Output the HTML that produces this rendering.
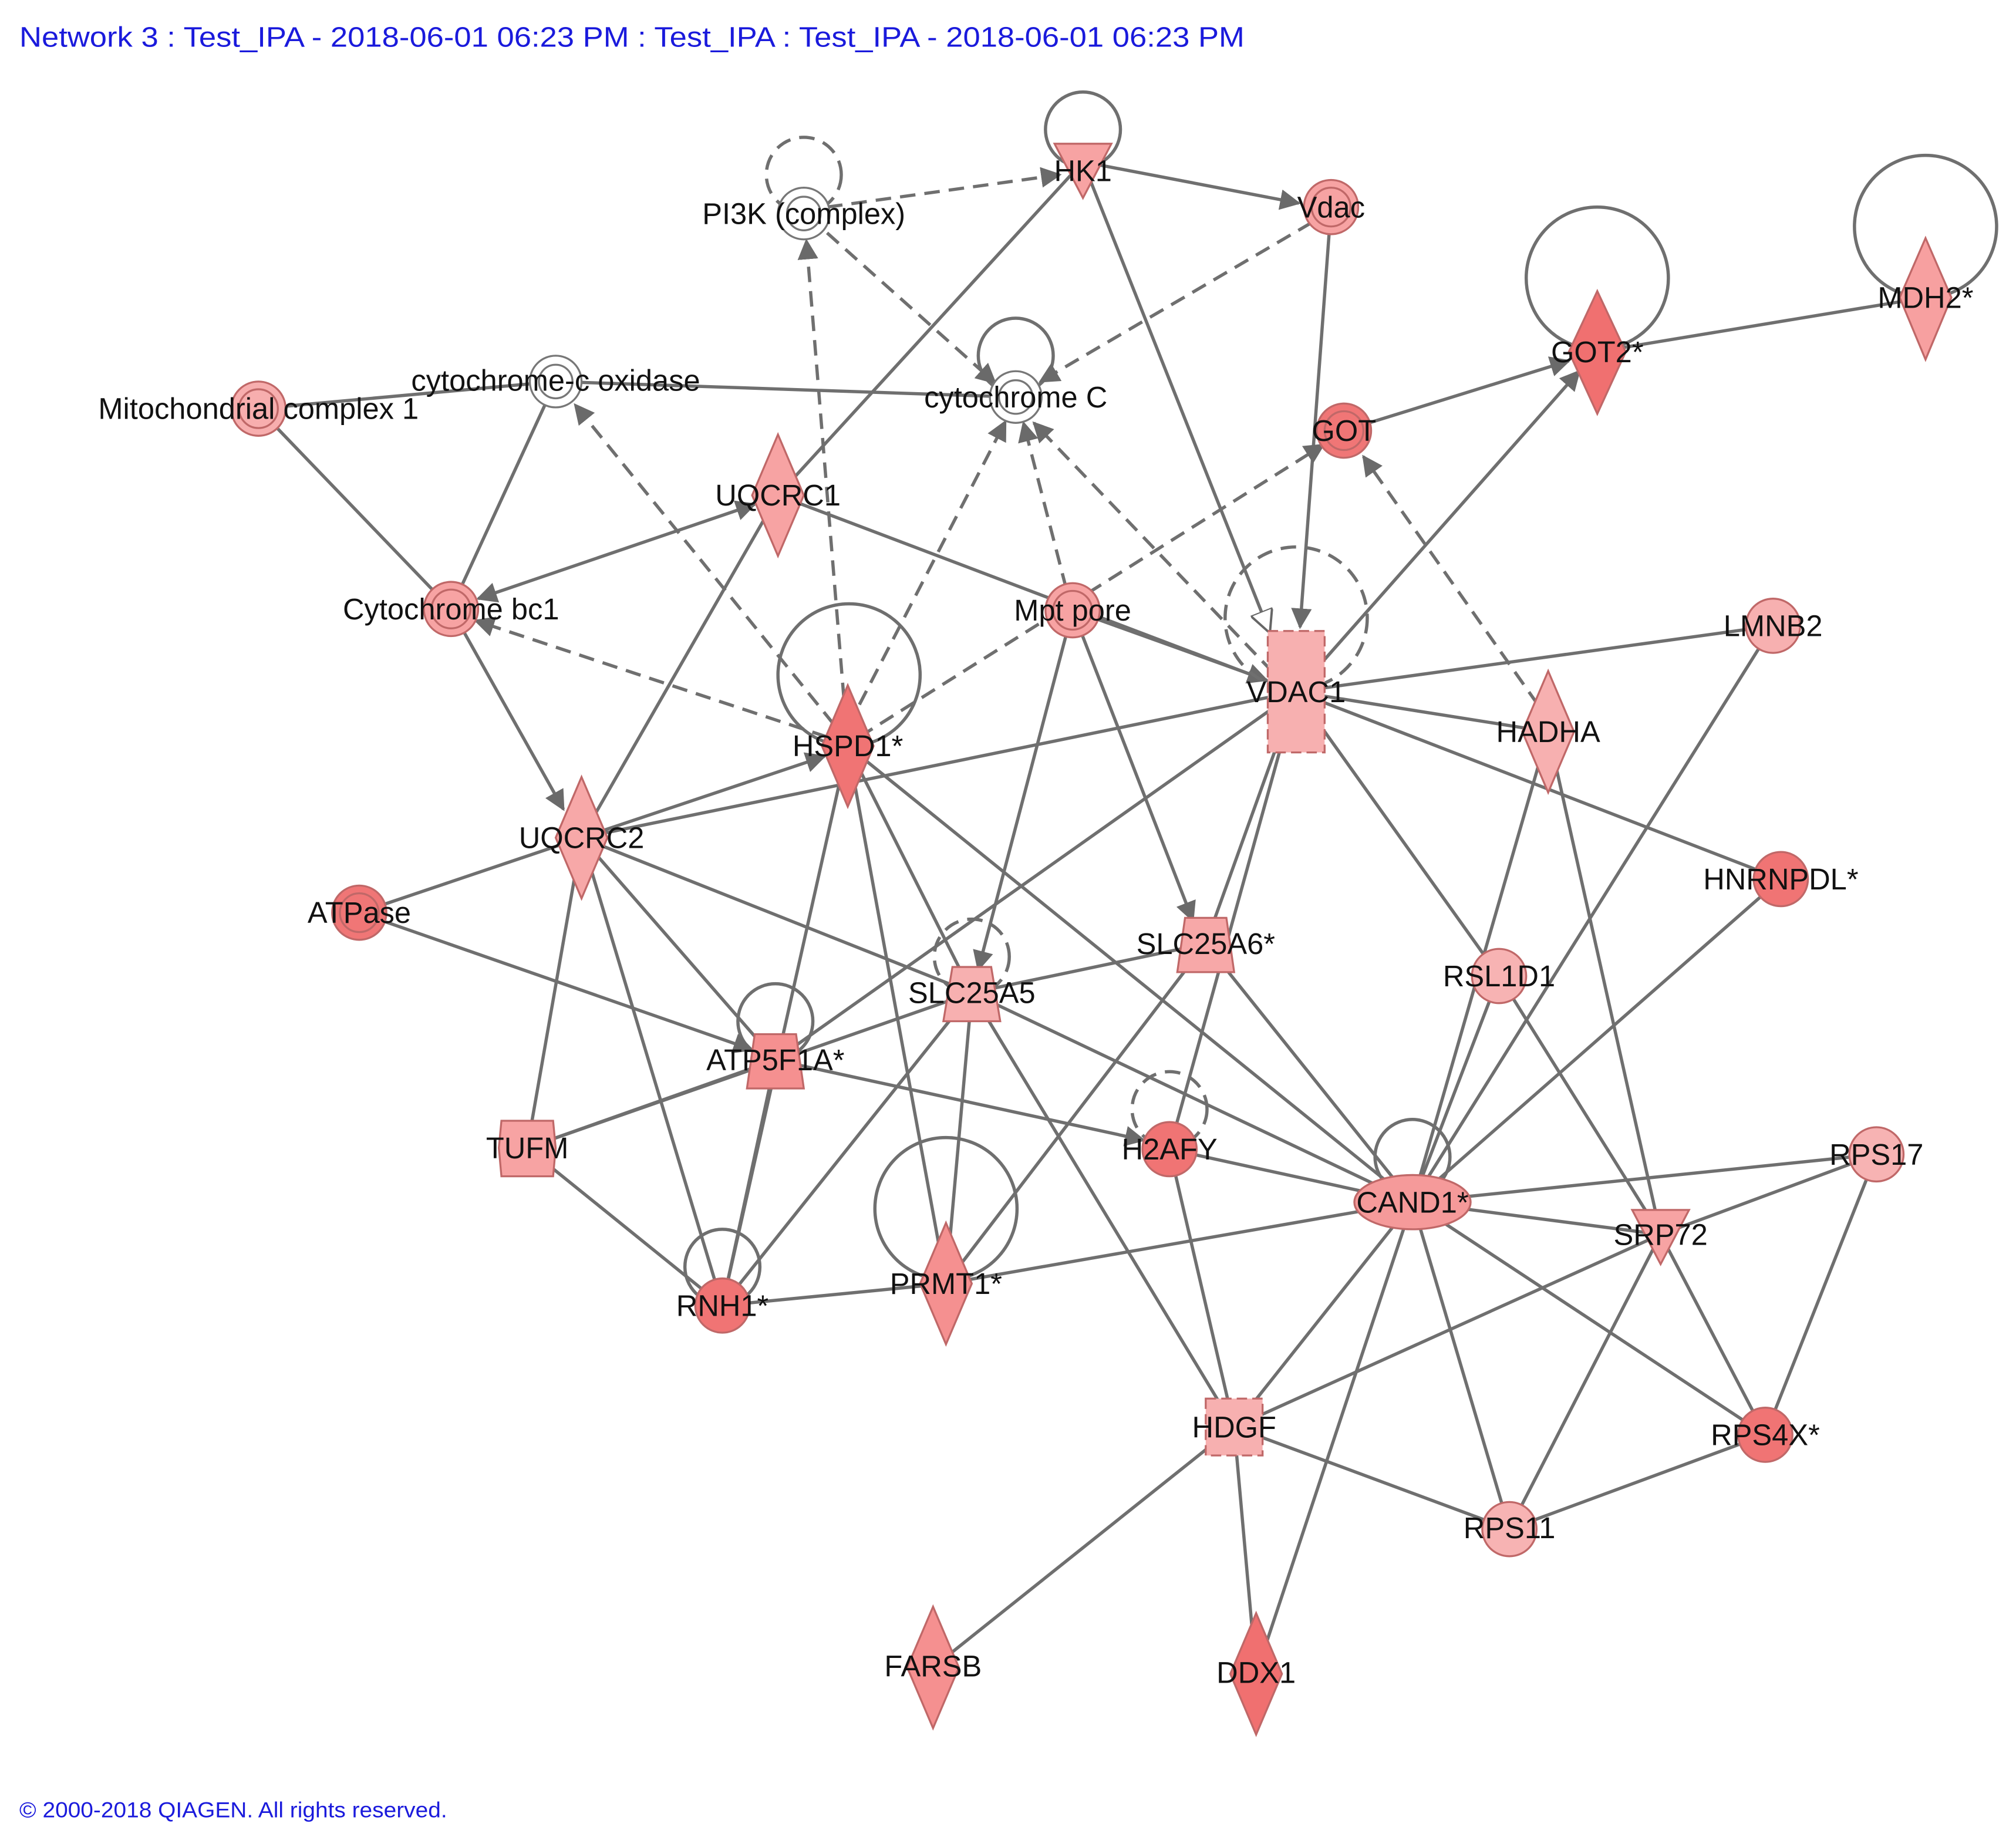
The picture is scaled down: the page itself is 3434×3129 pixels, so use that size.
<!DOCTYPE html>
<html><head><meta charset="utf-8"><style>
html,body{margin:0;padding:0;background:#fff;}
svg{display:block;}
text{font-family:"Liberation Sans",Arial,sans-serif;}
</style></head><body>
<svg width="3434" height="3129" viewBox="0 0 1560 1421" xmlns="http://www.w3.org/2000/svg">
<defs>
<marker id="A" viewBox="0 0 10 10" refX="9" refY="5" markerWidth="16" markerHeight="16" orient="auto-start-reverse" markerUnits="userSpaceOnUse"><path d="M0,0 L10,5 L0,10 z" fill="#6a6a6a"/></marker>
<marker id="O" viewBox="0 0 10 10" refX="9" refY="5" markerWidth="18" markerHeight="18" orient="auto" markerUnits="userSpaceOnUse"><path d="M0,0 L10,5 L0,10 z" fill="#fff" stroke="#666" stroke-width="1"/></marker>
</defs>
<rect width="1560" height="1421" fill="#fff"/>
<text x="15" y="36" font-size="22" fill="#1a1adc" textLength="948" lengthAdjust="spacingAndGlyphs">Network 3 : Test_IPA - 2018-06-01 06:23 PM : Test_IPA : Test_IPA - 2018-06-01 06:23 PM</text>
<text x="15" y="1406" font-size="17" fill="#1a1adc" textLength="331" lengthAdjust="spacingAndGlyphs">© 2000-2018 QIAGEN. All rights reserved.</text>

<g stroke="#6f6f6f" stroke-width="2.5" fill="none">
<circle cx="838" cy="100" r="29"/>
<circle cx="1236" cy="215" r="55"/>
<circle cx="1490" cy="175" r="55"/>
<circle cx="786" cy="275" r="29"/>
<circle cx="657" cy="522" r="55"/>
<circle cx="600" cy="790" r="29"/>
<circle cx="732" cy="935" r="55"/>
<circle cx="559" cy="980" r="29"/>
<circle cx="1093" cy="895" r="29"/>
<line x1="838" y1="125" x2="1005" y2="157" marker-end="url(#A)"/>
<line x1="838" y1="125" x2="982" y2="488" marker-end="url(#O)"/>
<line x1="1030" y1="160" x2="1006" y2="485" marker-end="url(#A)"/>
<line x1="838" y1="125" x2="602" y2="383"/>
<line x1="430" y1="295" x2="786" y2="307"/>
<line x1="200" y1="316" x2="430" y2="295"/>
<line x1="200" y1="316" x2="349" y2="471"/>
<line x1="430" y1="295" x2="349" y2="471"/>
<line x1="370" y1="463" x2="584" y2="390" marker-start="url(#A)" marker-end="url(#A)"/>
<line x1="602" y1="383" x2="1003" y2="535"/>
<line x1="349" y1="471" x2="436" y2="626" marker-end="url(#A)"/>
<line x1="1040" y1="333" x2="1214" y2="279" marker-end="url(#A)"/>
<line x1="1003" y1="535" x2="1222" y2="287" marker-end="url(#A)"/>
<line x1="1236" y1="272" x2="1490" y2="230"/>
<line x1="830" y1="472" x2="980" y2="526" marker-end="url(#A)"/>
<line x1="830" y1="472" x2="923" y2="712" marker-end="url(#A)"/>
<line x1="830" y1="472" x2="757" y2="750" marker-end="url(#A)"/>
<line x1="1003" y1="535" x2="1372" y2="484"/>
<line x1="1003" y1="535" x2="1198" y2="566"/>
<line x1="1003" y1="535" x2="1378" y2="680"/>
<line x1="1003" y1="535" x2="1160" y2="755"/>
<line x1="450" y1="648" x2="1003" y2="535"/>
<line x1="450" y1="648" x2="638" y2="585" marker-end="url(#A)"/>
<line x1="450" y1="648" x2="602" y2="383"/>
<line x1="450" y1="648" x2="278" y2="706"/>
<line x1="450" y1="648" x2="752" y2="768"/>
<line x1="450" y1="648" x2="600" y2="820"/>
<line x1="450" y1="648" x2="408" y2="888"/>
<line x1="450" y1="648" x2="559" y2="1010"/>
<line x1="278" y1="706" x2="582" y2="812" marker-end="url(#A)"/>
<line x1="1003" y1="535" x2="600" y2="820"/>
<line x1="1003" y1="535" x2="933" y2="730"/>
<line x1="1003" y1="535" x2="905" y2="889"/>
<line x1="656" y1="577" x2="752" y2="768"/>
<line x1="656" y1="577" x2="1093" y2="930"/>
<line x1="656" y1="577" x2="732" y2="993"/>
<line x1="656" y1="577" x2="559" y2="1010"/>
<line x1="752" y1="768" x2="933" y2="730"/>
<line x1="752" y1="768" x2="1093" y2="930"/>
<line x1="752" y1="768" x2="955" y2="1104"/>
<line x1="752" y1="768" x2="732" y2="993"/>
<line x1="752" y1="768" x2="408" y2="888"/>
<line x1="752" y1="768" x2="559" y2="1010"/>
<line x1="933" y1="730" x2="1093" y2="930"/>
<line x1="933" y1="730" x2="732" y2="993"/>
<line x1="600" y1="820" x2="885" y2="882" marker-end="url(#A)"/>
<line x1="600" y1="820" x2="559" y2="1010"/>
<line x1="408" y1="888" x2="600" y2="820"/>
<line x1="408" y1="888" x2="559" y2="1010"/>
<line x1="559" y1="1010" x2="732" y2="993"/>
<line x1="732" y1="993" x2="1093" y2="930"/>
<line x1="905" y1="889" x2="1093" y2="930"/>
<line x1="905" y1="889" x2="955" y2="1104"/>
<line x1="1093" y1="930" x2="1452" y2="893"/>
<line x1="1093" y1="930" x2="1285" y2="955"/>
<line x1="1093" y1="930" x2="1366" y2="1110"/>
<line x1="1093" y1="930" x2="1168" y2="1183"/>
<line x1="1093" y1="930" x2="955" y2="1104"/>
<line x1="1093" y1="930" x2="972" y2="1295"/>
<line x1="1093" y1="930" x2="1378" y2="680"/>
<line x1="1093" y1="930" x2="1372" y2="484"/>
<line x1="1093" y1="930" x2="1198" y2="566"/>
<line x1="1093" y1="930" x2="1160" y2="755"/>
<line x1="1160" y1="755" x2="1285" y2="955"/>
<line x1="1198" y1="566" x2="1285" y2="955"/>
<line x1="1285" y1="955" x2="1452" y2="893"/>
<line x1="1285" y1="955" x2="955" y2="1104"/>
<line x1="1285" y1="955" x2="1366" y2="1110"/>
<line x1="1285" y1="955" x2="1168" y2="1183"/>
<line x1="1452" y1="893" x2="1366" y2="1110"/>
<line x1="1366" y1="1110" x2="1168" y2="1183"/>
<line x1="955" y1="1104" x2="1168" y2="1183"/>
<line x1="955" y1="1104" x2="722" y2="1290"/>
<line x1="955" y1="1104" x2="972" y2="1295"/>
</g>
<g stroke="#6f6f6f" stroke-width="2.5" fill="none" stroke-dasharray="12,7">
<circle cx="622" cy="135" r="29"/>
<circle cx="1003" cy="478" r="55"/>
<circle cx="752" cy="740" r="29"/>
<circle cx="905" cy="858" r="29"/>
<line x1="640" y1="160" x2="820" y2="135" marker-end="url(#A)"/>
<line x1="640" y1="180" x2="770" y2="296" marker-end="url(#A)"/>
<line x1="1015" y1="172" x2="805" y2="295" marker-end="url(#A)"/>
<line x1="640" y1="570" x2="368" y2="480" marker-end="url(#A)"/>
<line x1="645" y1="560" x2="445" y2="313" marker-end="url(#A)"/>
<line x1="653" y1="540" x2="624" y2="186" marker-end="url(#A)"/>
<line x1="665" y1="545" x2="778" y2="326" marker-end="url(#A)"/>
<line x1="825" y1="455" x2="792" y2="327" marker-end="url(#A)"/>
<line x1="985" y1="520" x2="800" y2="327" marker-end="url(#A)"/>
<line x1="665" y1="570" x2="1024" y2="344" marker-end="url(#A)"/>
<line x1="1190" y1="545" x2="1055" y2="353" marker-end="url(#A)"/>
</g>

<g stroke="#c06868" stroke-width="1.5">
<circle cx="1030" cy="160" r="21" fill="#f7a3a3"/><circle cx="1030" cy="160" r="15" fill="none"/>
<circle cx="200" cy="316" r="21" fill="#f7aeae"/><circle cx="200" cy="316" r="15" fill="none"/>
<circle cx="1040" cy="333" r="21" fill="#f07676"/><circle cx="1040" cy="333" r="15" fill="none"/>
<circle cx="349" cy="471" r="21" fill="#f7a3a3"/><circle cx="349" cy="471" r="15" fill="none"/>
<circle cx="830" cy="472" r="21" fill="#f7a3a3"/><circle cx="830" cy="472" r="15" fill="none"/>
<circle cx="278" cy="706" r="21" fill="#f07676"/><circle cx="278" cy="706" r="15" fill="none"/>
<circle cx="1372" cy="484" r="21" fill="#f7b0b0"/>
<circle cx="1378" cy="680" r="21" fill="#f07474"/>
<circle cx="1160" cy="755" r="21" fill="#f7b3b3"/>
<circle cx="905" cy="889" r="21" fill="#f07474"/>
<circle cx="1452" cy="893" r="21" fill="#f7b3b3"/>
<circle cx="559" cy="1010" r="21" fill="#f07474"/>
<circle cx="1366" cy="1110" r="21" fill="#f07474"/>
<circle cx="1168" cy="1183" r="21" fill="#f7b3b3"/>
<ellipse cx="1093" cy="930" rx="45" ry="21" fill="#f59a9a"/>
<polygon points="816,111 860,111 838,153" fill="#f7a3a3"/>
<polygon points="1263,936 1307,936 1285,978" fill="#f7a3a3"/>
<polygon points="1490,184 1510,230 1490,278 1470,230" fill="#f7a0a0"/>
<polygon points="1236,225 1258,272 1236,320 1214,272" fill="#f07070"/>
<polygon points="602,336 622,383 602,430 582,383" fill="#f7a3a3"/>
<polygon points="1198,519 1218,566 1198,613 1178,566" fill="#f7b0b0"/>
<polygon points="656,530 676,577 656,624 636,577" fill="#f07474"/>
<polygon points="450,601 470,648 450,695 430,648" fill="#f7a8a8"/>
<polygon points="732,946 752,993 732,1040 712,993" fill="#f59090"/>
<polygon points="722,1243 742,1290 722,1337 702,1290" fill="#f59090"/>
<polygon points="972,1248 992,1295 972,1342 952,1295" fill="#f07070"/>
<polygon points="917,710 949,710 955,752 911,752" fill="#f7a8a8"/>
<polygon points="737,748 767,748 774,790 730,790" fill="#f7b0b0"/>
<polygon points="584,800 616,800 622,842 578,842" fill="#f59090"/>
<polygon points="388,867 428,867 430,888 428,910 388,910 386,888" fill="#f7a3a3"/>
<rect x="981" y="488" width="44" height="94" fill="#f7b0b0" stroke-dasharray="8,4"/>
<rect x="933" y="1082" width="44" height="44" fill="#f7b0b0" stroke-dasharray="8,4"/>
</g>
<g stroke="#777" stroke-width="1.5" fill="#fff">
<circle cx="622" cy="165" r="20"/><circle cx="622" cy="165" r="13"/>
<circle cx="430" cy="295" r="20"/><circle cx="430" cy="295" r="13"/>
<circle cx="786" cy="307" r="20"/><circle cx="786" cy="307" r="13"/>
</g>

<g font-size="23" fill="#111" text-anchor="middle">
<text x="838" y="140">HK1</text>
<text x="622" y="173">PI3K (complex)</text>
<text x="1030" y="168">Vdac</text>
<text x="430" y="302">cytochrome-c oxidase</text>
<text x="786" y="315">cytochrome C</text>
<text x="200" y="324">Mitochondrial complex 1</text>
<text x="1490" y="238">MDH2*</text>
<text x="1236" y="280">GOT2*</text>
<text x="1040" y="341">GOT</text>
<text x="602" y="391">UQCRC1</text>
<text x="349" y="479">Cytochrome bc1</text>
<text x="830" y="480">Mpt pore</text>
<text x="1003" y="543">VDAC1</text>
<text x="1372" y="492">LMNB2</text>
<text x="1198" y="574">HADHA</text>
<text x="656" y="585">HSPD1*</text>
<text x="450" y="656">UQCRC2</text>
<text x="1378" y="688">HNRNPDL*</text>
<text x="278" y="714">ATPase</text>
<text x="933" y="738">SLC25A6*</text>
<text x="752" y="776">SLC25A5</text>
<text x="1160" y="763">RSL1D1</text>
<text x="600" y="828">ATP5F1A*</text>
<text x="408" y="896">TUFM</text>
<text x="905" y="897">H2AFY</text>
<text x="1093" y="938">CAND1*</text>
<text x="1452" y="901">RPS17</text>
<text x="1285" y="963">SRP72</text>
<text x="559" y="1018">RNH1*</text>
<text x="732" y="1001">PRMT1*</text>
<text x="955" y="1112">HDGF</text>
<text x="1366" y="1118">RPS4X*</text>
<text x="1168" y="1190">RPS11</text>
<text x="722" y="1297">FARSB</text>
<text x="972" y="1302">DDX1</text>
</g>
</svg>
</body></html>
